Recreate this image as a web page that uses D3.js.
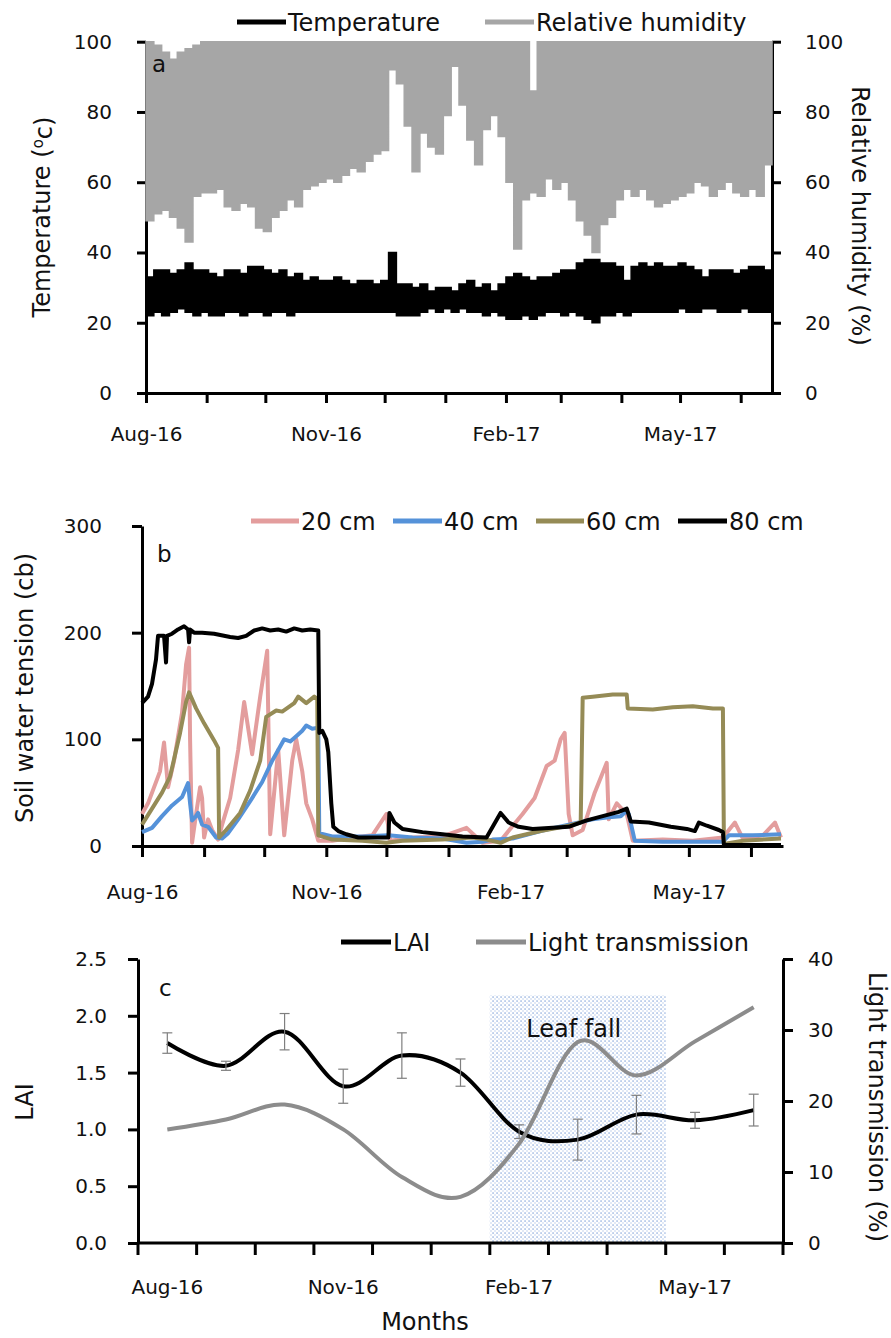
<!DOCTYPE html>
<html>
<head>
<meta charset="utf-8">
<script src="https://cdn.jsdelivr.net/npm/d3@7"></script>
<style>
  body { margin: 0; background: #fff; }
  svg { display: block; font-family: "DejaVu Sans", sans-serif; }
</style>
</head>
<body>
<div id="chart"></div>
<script>
// ---- panel a: 4-day samples from 1 Aug 2016 ----
const start = new Date(2016, 7, 1)
const end = new Date(2017, 5, 17)
const stepDays = 4

const rhMax = [100,99,97,95,97,98,99,100,100,100,
  100,100,100,100,100,100,100,100,100,100,
  100,100,100,100,100,100,100,100,100,100,
  100,100,100,100,100,100,100,100,100,100,
  100,100,100,100,100,100,100,100,100,86,
  100,100,100,100,100,100,100,100,100,100,
  100,100,100,100,100,100,100,100,100,100,
  100,100,100,100,100,100,100,100,100,100,
  100]
const rhMin = [49,51,52,50,47,43,56,57,57,58,
  53,52,54,53,47,46,50,52,55,53,
  58,59,60,61,60,62,64,63,66,68,
  69,92,88,76,63,74,70,68,79,93,
  82,72,65,75,79,73,60,41,55,57,
  56,61,58,60,55,49,45,40,48,50,
  55,58,56,58,55,53,54,55,56,57,
  60,59,56,58,60,57,56,58,56,65,
  72]
const tempMax = [33,35,35,34,35,37,35,35,34,33,
  35,35,34,36,36,35,34,35,33,34,
  32,33,32,32,33,32,31,32,32,31,
  32,40,31,31,30,31,29,30,30,29,
  31,32,30,31,29,31,33,34,33,32,
  33,33,34,35,35,37,38,38,37,37,
  36,32,36,37,36,37,36,36,37,36,
  35,33,35,35,35,34,35,36,36,35,
  34]
const tempMin = [22,23,22,23,24,23,22,23,22,22,
  23,23,22,23,23,22,23,23,22,23,
  23,23,23,23,23,23,23,23,23,23,
  23,23,22,22,22,23,24,23,24,23,
  24,23,23,22,23,22,21,21,22,21,
  22,23,23,22,23,22,21,20,22,22,
  23,22,23,23,23,23,23,23,24,23,
  23,24,24,23,23,23,24,23,23,23,
  23]

// ---- panel b: [days since 1 Aug 2016, cb] ----
const swt20 = [[0,30],[3,40],[6,55],[9,70],[11,97],[13,55],[16,80],[20,125],[22,170],[23.5,186],
  [24,100],[25,3],[27,30],[29,55],[30,45],[31,8],[33,25],[35,15],[38,6],[40,20],[44,45],[48,90],
  [51,135],[55,86],[59,140],[62.5,183],[64,11],[68,90],[71,10],[75,80],[77,100],[80,70],[82,40],
  [85,25],[88,5],[95,5],[105,8],[115,10],[122,30],[124,5],[135,8],[150,9],[162,17],[170,3],
  [179,5],[190,30],[196,45],[202,75],[206,80],[209,100],[211,106],[213,30],[215,10],[220,15],
  [226,50],[232,78],[233,25],[237,40],[242,30],[245,5],[260,6],[275,5],[290,8],[296,22],
  [300,7],[310,10],[316,22],[319,8]]
const swt40 = [[0,13],[5,17],[10,28],[15,38],[20,46],[23,59],[24,40],[25,24],[27,28],[28,31],
  [30,20],[33,18],[37,8],[40,7],[43,12],[48,25],[54,42],[60,60],[65,80],[71,100],[74,98],
  [77,103],[80,108],[82,113],[85,110],[88,111],[88.5,12],[95,9],[110,9],[123,10],[135,8],
  [150,7],[162,3],[170,4],[175,6],[185,7],[199,14],[213,20],[225,25],[233,27],[239,28],
  [242,33],[243,30],[246,5],[260,4],[275,4],[290,4],[293,10],[305,10],[319,11]]
const swt60 = [[0,20],[5,35],[10,50],[14,65],[19,106],[22,135],[23.5,144],[27,129],[31,115],
  [36,99],[38,92],[38.5,8],[42,15],[49,31],[54,52],[59,80],[62,121],[67,127],[70,126],[76,134],
  [78,140],[82,134],[86,140],[87.5,138],[88,10],[95,6],[110,5],[122,3],[130,5],[150,6],
  [165,8],[172,6],[179,3],[185,8],[199,14],[213,19],[219,22],[220,139],[225,140],[235,142],
  [242,142],[242.5,129],[255,128],[265,130],[275,131],[285,129],[290,129],[290.5,2],[300,5],[319,7]]
const swt80 = [[0,134],[3,140],[5,152],[7,175],[8,197],[11,197],[12,172],[12.5,197],[15,199],
  [18,203],[21,206],[23,203],[23.5,191],[24,203],[26,200],[30,200],[36,199],[44,196],[48,195],
  [52,197],[56,202],[60,204],[64,202],[68,203],[72,201],[76,204],[80,202],[84,203],[88,202],
  [88.5,106],[90,108],[92,100],[93,88],[94.5,40],[95.5,18],[98,14],[102,11],[108,8],[115,8],
  [123,8],[123.5,31],[126,22],[130,16],[140,13],[150,11],[160,9],[172,8],[179,31],[183,22],
  [188,18],[195,16],[205,17],[213,18],[222,24],[230,28],[238,32],[242,35],[244,23],[253,22],
  [264,18],[272,16],[276,14],[278,22],[282,19],[288,15],[290,13],[290.5,1],[319,1]]

// ---- panel c ----
const months = ["Aug-16","Sep-16","Oct-16","Nov-16","Dec-16","Jan-17","Feb-17","Mar-17","Apr-17","May-17","Jun-17"]
const lai = [1.76,1.56,1.86,1.38,1.65,1.50,0.98,0.91,1.13,1.08,1.17]
const laiErr = [0.09,0.04,0.16,0.15,0.20,0.12,0.06,0.18,0.17,0.07,0.14]
const lightTrans = [16.0,17.4,19.5,16.0,9.3,6.5,14.0,28.3,23.6,28.4,33.2]
const leafFall = ["Feb-17","Apr-17"]
const leafFallTop = 2.18

const W = 891, H = 1338
const svg = d3.select("#chart").append("svg").attr("width", W).attr("height", H)

const dayDate = d => new Date(start.getTime() + d * 864e5)
const quarterFmt = d => [7,10,1,4].includes(d.getMonth()) ? d3.timeFormat("%b-%y")(d) : ""

function styleAxis(g) {
  g.attr("font-family", "DejaVu Sans").attr("font-size", 20)
  g.select(".domain").attr("stroke", "#000").attr("stroke-width", 3)
  g.selectAll(".tick line").attr("stroke", "#000").attr("stroke-width", 3)
  g.selectAll(".tick text").attr("fill", "#111")
}

function title(x, y, rot, txt) {
  return svg.append("text")
    .attr("transform", `translate(${x},${y}) rotate(${rot})`)
    .attr("text-anchor", "middle").attr("dy", "0.35em")
    .attr("font-size", 24).attr("fill", "#111").text(txt)
}

function legend(y, items) {
  items.forEach(it => {
    svg.append("line").attr("x1", it.x1).attr("x2", it.x2).attr("y1", y).attr("y2", y)
      .attr("stroke", it.color).attr("stroke-width", 5)
    svg.append("text").attr("x", it.x2 + 2).attr("y", y).attr("dy", "0.36em")
      .attr("font-size", 24).attr("fill", "#111").text(it.label)
  })
}

// ================= panel a =================
const xA = d3.scaleTime().domain([start, end]).range([146, 772])
const yA = d3.scaleLinear().domain([0, 100]).range([393, 41.7])

svg.append("g").attr("transform", "translate(0,393)")
  .call(d3.axisBottom(xA).ticks(d3.timeMonth.every(1)).tickSize(10).tickSizeOuter(0)
    .tickPadding(24).tickFormat(quarterFmt))
  .call(styleAxis)
svg.append("g").attr("transform", "translate(146,0)")
  .call(d3.axisLeft(yA).tickValues([0,20,40,60,80,100]).tickSize(9).tickSizeOuter(0).tickPadding(25))
  .call(styleAxis)
svg.append("g").attr("transform", "translate(772,0)")
  .call(d3.axisRight(yA).tickValues([0,20,40,60,80,100]).tickSize(9).tickSizeOuter(0).tickPadding(24))
  .call(styleAxis)

const sampleDates = rhMin.map((_, i) => d3.timeDay.offset(start, i * stepDays))

const rhArea = d3.area()
  .x((d, i) => xA(sampleDates[i]))
  .y0((d, i) => yA(rhMin[i]))
  .y1((d, i) => yA(rhMax[i]))
  .curve(d3.curveStepAfter)
svg.append("path").datum(rhMin).attr("d", rhArea)
  .attr("fill", "#a6a6a6").attr("stroke", "#a6a6a6").attr("stroke-width", 1.5)

const tArea = d3.area()
  .x((d, i) => xA(sampleDates[i]))
  .y0((d, i) => yA(tempMin[i]))
  .y1((d, i) => yA(tempMax[i]))
  .curve(d3.curveStepAfter)
svg.append("path").datum(tempMin).attr("d", tArea)
  .attr("fill", "#000").attr("stroke", "#000").attr("stroke-width", 1.5)

svg.append("text").attr("x", 152).attr("y", 72).attr("font-size", 23).attr("fill", "#111").text("a")

const tTitle = title(42, 217, -90, "Temperature (")
tTitle.append("tspan").attr("font-size", 15).attr("dy", "-0.5em").text("o")
tTitle.append("tspan").attr("dy", "0.38em").text("c)")
title(860, 216, 90, "Relative humidity (%)")

legend(22, [
  { x1: 237, x2: 286, color: "#000", label: "Temperature" },
  { x1: 485, x2: 534, color: "#a6a6a6", label: "Relative humidity" }
])

// ================= panel b =================
const xB = d3.scaleTime().domain([start, end]).range([142, 783])
const yB = d3.scaleLinear().domain([0, 300]).range([846, 526])

svg.append("g").attr("transform", "translate(0,846)")
  .call(d3.axisBottom(xB).ticks(d3.timeMonth.every(1)).tickSize(11).tickSizeOuter(0)
    .tickPadding(28).tickFormat(quarterFmt))
  .call(styleAxis)
svg.append("g").attr("transform", "translate(142,0)")
  .call(d3.axisLeft(yB).tickValues([0,100,200,300]).tickSize(10).tickSizeOuter(0).tickPadding(30))
  .call(styleAxis)

const swtLine = d3.line().x(d => xB(dayDate(d[0]))).y(d => yB(d[1]))
const swtSeries = [
  { data: swt20, color: "#e39d9d", label: "20 cm" },
  { data: swt40, color: "#5592d9", label: "40 cm" },
  { data: swt60, color: "#958b56", label: "60 cm" },
  { data: swt80, color: "#000000", label: "80 cm" }
]
swtSeries.forEach(s => {
  svg.append("path").datum(s.data).attr("d", swtLine)
    .attr("fill", "none").attr("stroke", s.color).attr("stroke-width", 4)
    .attr("stroke-linejoin", "round")
})

svg.append("text").attr("x", 157).attr("y", 562).attr("font-size", 23).attr("fill", "#111").text("b")
title(25, 688, -90, "Soil water tension (cb)")

legend(521, [
  { x1: 251, x2: 299, color: "#e39d9d", label: "20 cm" },
  { x1: 393, x2: 442, color: "#5592d9", label: "40 cm" },
  { x1: 536, x2: 584, color: "#958b56", label: "60 cm" },
  { x1: 678, x2: 727, color: "#000", label: "80 cm" }
])

// ================= panel c =================
const xC = d3.scaleBand().domain(months).range([138, 783])
const cx = m => xC(m) + xC.bandwidth() / 2
const yC = d3.scaleLinear().domain([0, 2.5]).range([1243, 959])
const yC2 = d3.scaleLinear().domain([0, 40]).range([1243, 959])

const defs = svg.append("defs")
const pat = defs.append("pattern").attr("id", "dots").attr("patternUnits", "userSpaceOnUse")
  .attr("width", 4).attr("height", 4)
pat.append("rect").attr("width", 4).attr("height", 4).attr("fill", "#fff")
pat.append("rect").attr("x", 0.5).attr("y", 0.5).attr("width", 1.1).attr("height", 1.1).attr("fill", "#4777c9")
pat.append("rect").attr("x", 2.5).attr("y", 2.5).attr("width", 1).attr("height", 1).attr("fill", "#8aa9dd")

svg.append("rect")
  .attr("x", xC(leafFall[0])).attr("width", xC(leafFall[1]) + xC.bandwidth() - xC(leafFall[0]))
  .attr("y", yC(leafFallTop)).attr("height", yC(0) - yC(leafFallTop))
  .attr("fill", "url(#dots)")
svg.append("text")
  .attr("x", (xC(leafFall[0]) + xC(leafFall[1]) + xC.bandwidth()) / 2 - 4)
  .attr("y", yC(leafFallTop) + 42)
  .attr("text-anchor", "middle").attr("font-size", 24).attr("fill", "#111").text("Leaf fall")

// x axis with ticks on month boundaries
const bounds = months.map(m => xC(m)).concat([xC.range()[1]])
const xg = svg.append("g").attr("font-family", "DejaVu Sans").attr("font-size", 20)
xg.append("line").attr("x1", xC.range()[0]).attr("x2", xC.range()[1])
  .attr("y1", yC(0)).attr("y2", yC(0)).attr("stroke", "#000").attr("stroke-width", 3)
xg.selectAll("line.tk").data(bounds).enter().append("line").attr("class", "tk")
  .attr("x1", d => d).attr("x2", d => d).attr("y1", yC(0)).attr("y2", yC(0) + 12)
  .attr("stroke", "#000").attr("stroke-width", 3)
xg.selectAll("text").data(months.filter((m, i) => i % 3 === 0)).enter().append("text")
  .attr("x", d => cx(d)).attr("y", yC(0) + 44).attr("dy", "0.35em")
  .attr("text-anchor", "middle").attr("fill", "#111").text(d => d)

svg.append("g").attr("transform", "translate(138,0)")
  .call(d3.axisLeft(yC).tickValues([0,0.5,1,1.5,2,2.5]).tickFormat(d3.format(".1f"))
    .tickSize(10).tickSizeOuter(0).tickPadding(21))
  .call(styleAxis)
svg.append("g").attr("transform", "translate(783,0)")
  .call(d3.axisRight(yC2).tickValues([0,10,20,30,40]).tickSize(10).tickSizeOuter(0).tickPadding(15))
  .call(styleAxis)

const smooth = d3.curveCardinal.tension(0)
svg.append("path").datum(lai)
  .attr("d", d3.line().x((d, i) => cx(months[i])).y(d => yC(d)).curve(smooth))
  .attr("fill", "none").attr("stroke", "#000").attr("stroke-width", 4)

const eb = svg.append("g").attr("stroke", "#7f7f7f").attr("stroke-width", 1.2)
months.forEach((m, i) => {
  const x = cx(m), hi = yC(lai[i] + laiErr[i]), lo = yC(lai[i] - laiErr[i])
  eb.append("line").attr("x1", x).attr("x2", x).attr("y1", hi).attr("y2", lo)
  eb.append("line").attr("x1", x - 5).attr("x2", x + 5).attr("y1", hi).attr("y2", hi)
  eb.append("line").attr("x1", x - 5).attr("x2", x + 5).attr("y1", lo).attr("y2", lo)
})

svg.append("path").datum(lightTrans)
  .attr("d", d3.line().x((d, i) => cx(months[i])).y(d => yC2(d)).curve(smooth))
  .attr("fill", "none").attr("stroke", "#8c8c8c").attr("stroke-width", 4)

svg.append("text").attr("x", 159).attr("y", 996).attr("font-size", 23).attr("fill", "#111").text("c")
title(25, 1102, -90, "LAI")
title(877, 1107, 90, "Light transmission (%)")
svg.append("text").attr("x", 425).attr("y", 1322).attr("dy", "0.35em").attr("text-anchor", "middle")
  .attr("font-size", 24).attr("fill", "#111").text("Months")

legend(942, [
  { x1: 341, x2: 391, color: "#000", label: "LAI" },
  { x1: 476, x2: 526, color: "#8c8c8c", label: "Light transmission" }
])
</script>
</body>
</html>
